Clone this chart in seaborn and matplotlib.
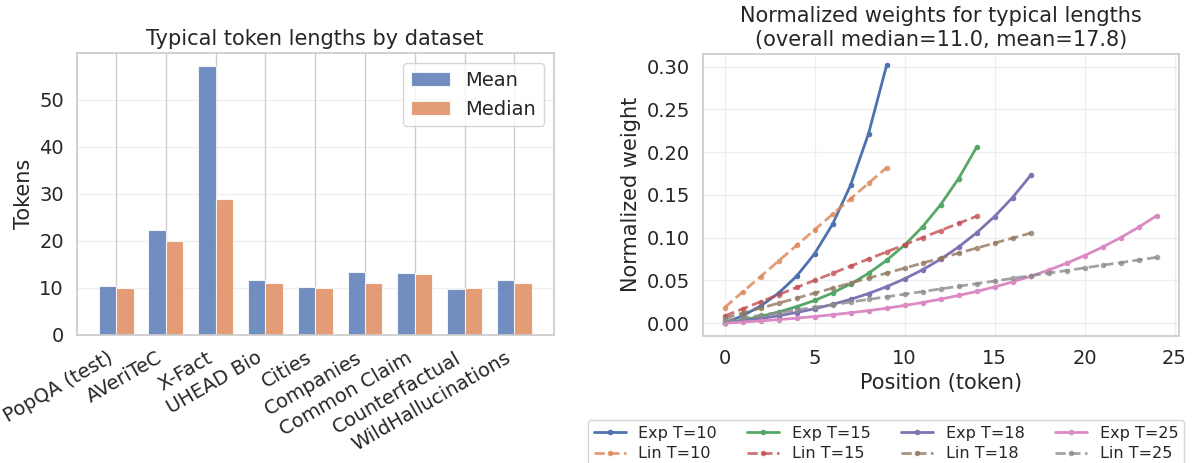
import numpy as np
import pandas as pd
import matplotlib
matplotlib.use("Agg")
import matplotlib.pyplot as plt
import seaborn as sns

# ---------------- data ----------------
datasets = ["PopQA (test)", "AVeriTeC", "X-Fact", "UHEAD Bio", "Cities",
            "Companies", "Common Claim", "Counterfactual", "WildHallucinations"]
mean_tokens = [10.4, 22.3, 57.1, 11.8, 10.2, 13.3, 13.2, 9.7, 11.8]
median_tokens = [10, 20, 29, 11, 10, 11, 13, 10, 11]

exp_t10 = [0.0, 0.0086, 0.0200, 0.0351, 0.0549, 0.0811, 0.1157, 0.1614, 0.2217, 0.3014]
lin_t10 = [0.0182, 0.0364, 0.0545, 0.0727, 0.0909, 0.1091, 0.1273, 0.1455, 0.1636, 0.1818]

exp_t15 = [0.0, 0.0036, 0.0079, 0.0130, 0.0192, 0.0265, 0.0353, 0.0458, 0.0583,
           0.0734, 0.0913, 0.1127, 0.1384, 0.1690, 0.2056]
lin_t15 = [0.0083, 0.0167, 0.0250, 0.0333, 0.0417, 0.0500, 0.0583, 0.0667, 0.0750,
           0.0833, 0.0917, 0.1000, 0.1083, 0.1167, 0.1250]

exp_t18 = [0.0, 0.0024, 0.0053, 0.0086, 0.0124, 0.0168, 0.0219, 0.0278, 0.0346,
           0.0426, 0.0518, 0.0624, 0.0747, 0.0890, 0.1056, 0.1247, 0.1469, 0.1727]
lin_t18 = [0.0058, 0.0117, 0.0175, 0.0234, 0.0292, 0.0351, 0.0409, 0.0468, 0.0526,
           0.0585, 0.0643, 0.0702, 0.0760, 0.0819, 0.0877, 0.0936, 0.0994, 0.1053]

exp_t25 = [0.0, 0.0012, 0.0026, 0.0041, 0.0058, 0.0077, 0.0098, 0.0121, 0.0146,
           0.0174, 0.0206, 0.0241, 0.0280, 0.0323, 0.0370, 0.0423, 0.0482, 0.0548,
           0.0620, 0.0700, 0.0790, 0.0889, 0.0999, 0.1121, 0.1256]
lin_t25 = [0.0031, 0.0062, 0.0092, 0.0123, 0.0154, 0.0185, 0.0215, 0.0246, 0.0277,
           0.0308, 0.0338, 0.0369, 0.0400, 0.0431, 0.0462, 0.0492, 0.0523, 0.0554,
           0.0585, 0.0615, 0.0646, 0.0677, 0.0708, 0.0738, 0.0769]

series = [("Exp T=10", exp_t10), ("Lin T=10", lin_t10),
          ("Exp T=15", exp_t15), ("Lin T=15", lin_t15),
          ("Exp T=18", exp_t18), ("Lin T=18", lin_t18),
          ("Exp T=25", exp_t25), ("Lin T=25", lin_t25)]

# ---------------- style ----------------
sns.set_theme(style="whitegrid", palette="deep")
plt.rcParams['font.family'] = ['DejaVu Sans']
pal = sns.color_palette("deep")

W, H = 1198, 463
fig = plt.figure(figsize=(W / 100, H / 100), dpi=100)
ax1 = fig.add_axes([77 / W, 1 - 335 / H, 476.5 / W, (335 - 53.3) / H])
ax2 = fig.add_axes([703 / W, 1 - 335.5 / H, 476 / W, (335.5 - 54) / H])

# ---------------- left: bars ----------------
df = pd.DataFrame({
    "dataset": datasets * 2,
    "tokens": mean_tokens + median_tokens,
    "stat": ["Mean"] * len(datasets) + ["Median"] * len(datasets),
})
sns.barplot(data=df, x="dataset", y="tokens", hue="stat", ax=ax1,
            palette=[pal[0], pal[1]], alpha=0.8, saturation=1,
            width=0.7, gap=0, edgecolor="white", linewidth=0.8)
ax1.set_xlim(-0.785, len(datasets) - 1 + 0.785)
ax1.set_ylim(0, 59.9)
ax1.set_yticks([0, 10, 20, 30, 40, 50])
ax1.set_title("Typical token lengths by dataset", fontsize=15)
ax1.set_ylabel("Tokens", fontsize=15)
ax1.set_xlabel("")
ax1.tick_params(axis="both", labelsize=14)
plt.setp(ax1.get_xticklabels(), rotation=30, ha="right")
ax1.grid(axis="y", alpha=0.3)
ax1.grid(axis="x", color=".8")
ax1.set_axisbelow(True)
h, l = ax1.get_legend_handles_labels()
ax1.legend(h, l, loc="upper right", fontsize=14, frameon=True)

# ---------------- right: lines ----------------
for i, (name, vals) in enumerate(series):
    xs = np.arange(len(vals))
    is_lin = name.startswith("Lin")
    sns.lineplot(x=xs, y=vals, ax=ax2, color=pal[i], label=name,
                 marker="o", markersize=4, markeredgewidth=0,
                 linewidth=2, linestyle="--" if is_lin else "-",
                 alpha=0.8 if is_lin else 1.0)
ax2.set_title("Normalized weights for typical lengths\n(overall median=11.0, mean=17.8)",
              fontsize=15)
ax2.set_xlabel("Position (token)", fontsize=15)
ax2.set_ylabel("Normalized weight", fontsize=15)
ax2.tick_params(axis="both", labelsize=14)
ax2.set_xticks([0, 5, 10, 15, 20, 25])
ax2.set_yticks([0.0, 0.05, 0.10, 0.15, 0.20, 0.25, 0.30])
ax2.set_yticklabels(["0.00", "0.05", "0.10", "0.15", "0.20", "0.25", "0.30"])
ax2.set_xlim(-1.2, 25.25)
ax2.set_ylim(-0.0145, 0.3148)
ax2.grid(True, alpha=0.3)
ax2.legend(ncol=4, fontsize=11.5, loc="upper left",
           bbox_to_anchor=(588 / W, 1 - 420 / H),
           bbox_transform=fig.transFigure, frameon=True, borderaxespad=0,
           labelspacing=0.35, borderpad=0.35, columnspacing=1.9)

fig.savefig("out.png", dpi=100)
